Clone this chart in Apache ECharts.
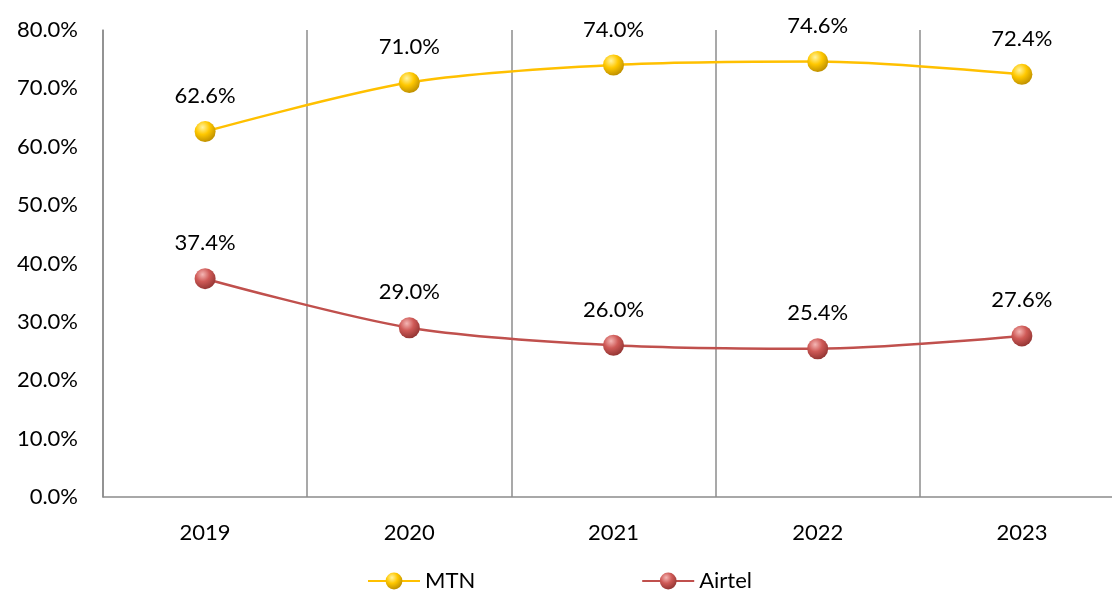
<!DOCTYPE html>
<html>
<head>
<meta charset="utf-8">
<script src="https://cdn.jsdelivr.net/npm/echarts@6/dist/echarts.min.js"></script>
<style>
  html, body { margin: 0; padding: 0; background: #fff; }
  #main { width: 1112px; height: 590px; }
</style>
</head>
<body>
<div id="main"></div>
<script>
// chart data
var years = ['2019', '2020', '2021', '2022', '2023'];
var mtn = [62.6, 71.0, 74.0, 74.6, 72.4];
var airtel = [37.4, 29.0, 26.0, 25.4, 27.6];

var font = 'Lato, Carlito, "Open Sans", sans-serif';

function ball(light, mid, dark) {
    return new echarts.graphic.RadialGradient(0.38, 0.3, 0.75, [
        {offset: 0, color: light},
        {offset: 0.45, color: mid},
        {offset: 1, color: dark}
    ]);
}

var myChart = echarts.init(document.getElementById('main'));
myChart.setOption({
    animation: false,
    textStyle: {fontFamily: font},
    // plot runs past the right edge of the picture, like the original crop
    grid: {left: 103, top: 30, height: 467, width: 1021, outerBoundsMode: 'none', containLabel: false},
    legend: {
        top: 565,
        left: 362,
        itemWidth: 52,
        itemHeight: 21,
        itemGap: 166,
        textStyle: {fontSize: 22, color: '#000', fontFamily: font},
        data: ['MTN', 'Airtel']
    },
    xAxis: {
        type: 'category',
        data: years,
        boundaryGap: true,
        axisLine: {lineStyle: {color: '#8c8c8c', width: 1.5}},
        axisTick: {show: false},
        splitLine: {show: true, lineStyle: {color: '#8c8c8c', width: 1.5}},
        axisLabel: {fontSize: 22, color: '#000', margin: 25, fontFamily: font}
    },
    yAxis: {
        type: 'value',
        min: 0,
        max: 80,
        interval: 10,
        axisLine: {show: true, lineStyle: {color: '#8c8c8c', width: 1.5}},
        axisTick: {show: false},
        splitLine: {show: false},
        axisLabel: {
            fontSize: 22, color: '#000', margin: 25, fontFamily: font,
            formatter: function (v) { return v.toFixed(1) + '%'; }
        }
    },
    series: [
        {
            name: 'MTN',
            type: 'line',
            data: mtn,
            smooth: 0.3,
            symbol: 'circle',
            symbolSize: 21,
            lineStyle: {color: '#FFC000', width: 2.5},
            itemStyle: {color: ball('#fff3a0', '#ffc800', '#b88a00'), borderWidth: 0},
            label: {
                show: true, position: 'top', distance: 14,
                fontSize: 22, color: '#000', fontFamily: font,
                formatter: function (p) { return p.value.toFixed(1) + '%'; }
            }
        },
        {
            name: 'Airtel',
            type: 'line',
            data: airtel,
            smooth: 0.3,
            symbol: 'circle',
            symbolSize: 21,
            lineStyle: {color: '#C0504D', width: 2.5},
            itemStyle: {color: ball('#f4b6b4', '#cf5a57', '#8e3230'), borderWidth: 0},
            label: {
                show: true, position: 'top', distance: 14,
                fontSize: 22, color: '#000', fontFamily: font,
                formatter: function (p) { return p.value.toFixed(1) + '%'; }
            }
        }
    ]
});
</script>
</body>
</html>
